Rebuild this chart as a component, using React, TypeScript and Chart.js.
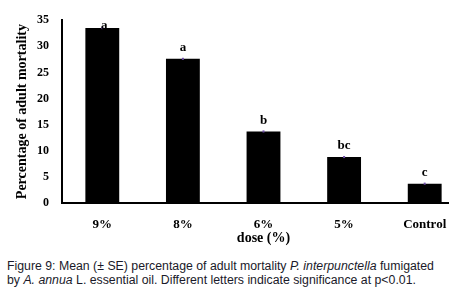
import React, { useEffect, useRef } from "react";
import { Chart, registerables } from "chart.js";

Chart.register(...registerables);

const categories = ["9%", "8%", "6%", "5%", "Control"];
const meanMortality = [33.5, 27.6, 13.7, 8.8, 3.7];
const standardError = [0.2, 0.2, 0.2, 0.2, 0.2];
const significanceLetters = ["a", "a", "b", "bc", "c"];
const yTicks = [0, 5, 10, 15, 20, 25, 30, 35];

const SERIF = "'Liberation Serif', 'Times New Roman', serif";

const annotatePlugin = {
  id: "annotate",
  afterDatasetsDraw(chart: any) {
    const { ctx, chartArea } = chart;
    const meta = chart.getDatasetMeta(0);
    const yScale = chart.scales.y;
    ctx.save();
    meta.data.forEach((bar: any, i: number) => {
      const v = meanMortality[i];
      const se = standardError[i];
      ctx.strokeStyle = "#7050a8";
      ctx.lineWidth = 2;
      ctx.beginPath();
      ctx.moveTo(bar.x, yScale.getPixelForValue(v + se));
      ctx.lineTo(bar.x, yScale.getPixelForValue(v - se));
      ctx.stroke();
      ctx.fillStyle = "#000";
      ctx.font = `bold 13px ${SERIF}`;
      ctx.textAlign = "center";
      ctx.textBaseline = "middle";
      const top = yScale.getPixelForValue(v);
      const y = Math.max(top - 11, chartArea.top + 5.5);
      ctx.fillText(significanceLetters[i], bar.x + (i === 0 ? 2 : 0), y);
    });
    ctx.restore();
  },
};

export default function App() {
  const ref = useRef<HTMLCanvasElement>(null);
  useEffect(() => {
    if (!ref.current) return;
    const chart = new Chart(ref.current, {
      type: "bar",
      data: {
        labels: categories,
        datasets: [
          {
            data: meanMortality,
            backgroundColor: "#000",
            borderWidth: 0,
            barPercentage: 0.42,
            categoryPercentage: 1,
          },
        ],
      },
      options: {
        responsive: false,
        animation: false,
        layout: { padding: { left: 0, top: 15, right: 15, bottom: 0 } },
        plugins: { legend: { display: false }, tooltip: { enabled: false } },
        scales: {
          x: {
            grid: { display: false, drawTicks: false, tickLength: 0 },
            border: { color: "#000", width: 2 },
            ticks: { color: "#000", font: { family: SERIF, size: 13, weight: "bold" }, padding: 14, maxRotation: 0 },
            title: {
              display: true,
              text: "dose (%)",
              color: "#000",
              font: { family: SERIF, size: 14, weight: "bold" },
              padding: { top: 0, bottom: 3 },
            },
            afterFit(scale: any) {
              scale.height = 47;
            },
          },
          y: {
            min: 0,
            max: 35,
            afterBuildTicks(scale: any) {
              scale.ticks = yTicks.map((v) => ({ value: v }));
            },
            grid: { display: false, drawTicks: false, tickLength: 0 },
            border: { color: "#000", width: 2 },
            ticks: { color: "#000", font: { family: SERIF, size: 12, weight: "bold" }, padding: 13 },
            title: {
              display: true,
              text: "Percentage of adult mortality",
              color: "#000",
              font: { family: SERIF, size: 14, weight: "bold" },
              padding: { top: 13.5, bottom: 0 },
            },
            afterFit(scale: any) {
              scale.width = 62;
            },
          },
        },
      },
      plugins: [annotatePlugin],
    });
    return () => chart.destroy();
  }, []);

  const capStyle: React.CSSProperties = {
    position: "absolute",
    left: 7,
    fontFamily: "'Liberation Sans', Arial, sans-serif",
    fontSize: 12.3,
    color: "#1a1a2a",
    whiteSpace: "nowrap",
    lineHeight: "14px",
  };

  return (
    <div style={{ position: "absolute", left: 0, top: 0, width: 457, height: 294, background: "#fff" }}>
      <div style={{ position: "absolute", left: 0, top: 0, width: 449, height: 250, overflow: "hidden" }}>
        <canvas ref={ref} width={480} height={250} style={{ display: "block" }} />
      </div>
      <div style={{ ...capStyle, top: 259 }}>
        Figure 9: Mean (± SE) percentage of adult mortality <i>P. interpunctella</i> fumigated
      </div>
      <div style={{ ...capStyle, top: 273 }}>
        by <i>A. annua</i> L. essential oil. Different letters indicate significance at p&lt;0.01.
      </div>
    </div>
  );
}
